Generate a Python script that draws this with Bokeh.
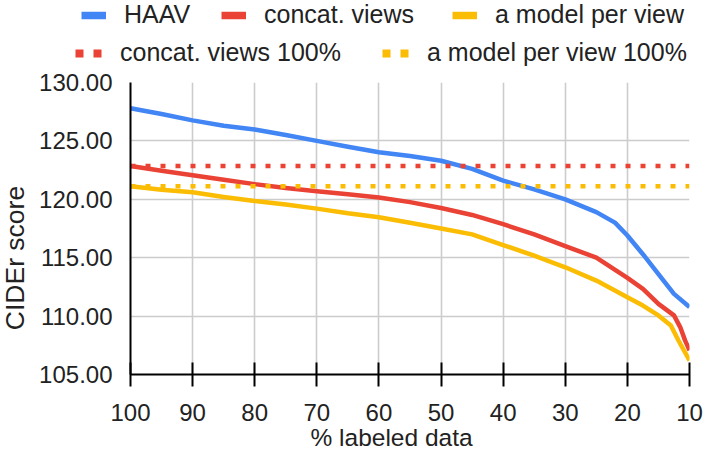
import math
from bokeh.plotting import figure
from bokeh.layouts import column, row
from bokeh.models import (Range1d, FixedTicker, PrintfTickFormatter, Legend, LegendItem, Label, Title)
from bokeh.embed import file_html
from bokeh.resources import INLINE

# ---- data ----
haav_x = [100, 95, 90, 85, 80, 75, 70, 65, 60, 55, 50, 45, 40, 35, 30, 25, 22, 20, 17.5, 15, 12.5, 10]
haav_y = [127.8, 127.3, 126.76, 126.3, 125.97, 125.5, 125.0, 124.5, 124.03, 123.7, 123.3, 122.6,
          121.6, 120.85, 120.0, 118.9, 118.0, 116.9, 115.3, 113.6, 111.9, 110.77]

concat_x = [100, 95, 90, 85, 80, 75, 70, 65, 60, 55, 50, 45, 40, 35, 30, 25, 20, 17.5, 15, 12.5, 11.5, 10.7, 10]
concat_y = [122.85, 122.44, 122.06, 121.68, 121.3, 120.97, 120.68, 120.44, 120.15, 119.76, 119.25, 118.66,
            117.87, 117.0, 116.0, 115.0, 113.27, 112.33, 111.05, 110.06, 109.06, 107.9, 107.07]

model_x = [100, 95, 90, 85, 80, 75, 70, 65, 60, 55, 50, 45, 40, 35, 30, 25, 20, 17.5, 15, 13, 11.8, 10]
model_y = [121.12, 120.82, 120.6, 120.2, 119.85, 119.56, 119.2, 118.8, 118.47, 118.0, 117.5, 117.0,
           116.08, 115.17, 114.18, 113.04, 111.62, 110.9, 110.06, 109.2, 107.93, 106.2]

full_x = [100, 10]
concat_full_y = [122.85, 122.85]
model_full_y = [121.12, 121.12]

x_ticks = [100, 90, 80, 70, 60, 50, 40, 30, 20, 10]
y_ticks = [105, 110, 115, 120, 125, 130]

series_names = ["HAAV", "concat. views", "a model per view", "concat. views 100%", "a model per view 100%"]
x_title = "% labeled data"
y_title = "CIDEr score"

BLUE = "#4285F4"
RED = "#EA4335"
YELLOW = "#FBBC04"
FONT = "Liberation Sans"
TXT = "#222222"
LW = 4.5
DOT = "5 10"


def blank_strip(w, h, xr=(0, 1), yr=(0, 1)):
    f = figure(width=w, height=h, output_backend="svg", toolbar_location=None,
               x_range=Range1d(*xr), y_range=Range1d(*yr),
               x_axis_type=None, y_axis_type=None, title_location=None,
               min_border_left=0, min_border_right=0, min_border_top=0, min_border_bottom=0)
    f.frame_align = False
    f.outline_line_color = None
    f.xgrid.visible = False
    f.ygrid.visible = False
    return f


# ---------------- main chart ----------------
p = figure(width=670, height=391, output_backend="svg", toolbar_location=None,
           x_range=Range1d(100, 10), y_range=Range1d(105, 130),
           min_border_left=92, min_border_right=17, min_border_top=14, min_border_bottom=85)
p.frame_align = False
p.outline_line_color = None
p.background_fill_color = "white"

p.xgrid.ticker = FixedTicker(ticks=x_ticks)
p.ygrid.ticker = FixedTicker(ticks=y_ticks)
for g in (p.xgrid, p.ygrid):
    g.grid_line_color = "#cccccc"
    g.grid_line_width = 1.6

xa = p.xaxis[0]
xa.ticker = FixedTicker(ticks=x_ticks)
xa.axis_line_color = "black"
xa.axis_line_width = 2
xa.major_tick_line_color = "black"
xa.major_tick_line_width = 2
xa.major_tick_in = 12
xa.major_tick_out = 12
xa.minor_tick_line_color = None
xa.major_label_text_font = FONT
xa.major_label_text_font_size = "24px"
xa.major_label_text_color = TXT
xa.major_label_standoff = 17

ya = p.yaxis[0]
ya.ticker = FixedTicker(ticks=y_ticks)
ya.formatter = PrintfTickFormatter(format="%.2f")
ya.axis_line_color = "black"
ya.axis_line_width = 2
ya.major_tick_in = 0
ya.major_tick_out = 0
ya.minor_tick_line_color = None
ya.major_label_text_font = FONT
ya.major_label_text_font_size = "24px"
ya.major_label_text_color = TXT
ya.major_label_standoff = 18

p.line(haav_x, haav_y, line_color=BLUE, line_width=LW, line_join="round")
p.line(concat_x, concat_y, line_color=RED, line_width=LW, line_join="round")
p.line(model_x, model_y, line_color=YELLOW, line_width=LW, line_join="round")
p.line(full_x, concat_full_y, line_color=RED, line_width=LW, line_dash=DOT, line_cap="butt")
p.line(full_x, model_full_y, line_color=YELLOW, line_width=LW, line_dash=DOT, line_cap="butt")

# x axis title, placed below the axis with a left offset like the reference
p.add_layout(Title(text=x_title, align="left", offset=180, standoff=0, vertical_align="top",
                   text_font=FONT, text_font_size="24.5px", text_font_style="normal",
                   text_color=TXT), "below")

# ---------------- y axis title strip ----------------
yf = blank_strip(36, 391)
yf.add_layout(Label(x=14.5, y=201.5, x_units="screen", y_units="screen", text=y_title,
                    angle=math.pi / 2, text_font=FONT, text_font_size="26.5px",
                    text_color=TXT, text_align="center", text_baseline="middle"))

# ---------------- legend strip ----------------
# the series are drawn here too, outside the visible range, only to provide legend swatches
lf = blank_strip(706, 68, xr=(100, 10), yr=(0, 1))
e_haav = lf.line(haav_x, haav_y, line_color=BLUE, line_width=7.5)
e_concat = lf.line(concat_x, concat_y, line_color=RED, line_width=7.5)
e_model = lf.line(model_x, model_y, line_color=YELLOW, line_width=7.5)
e_concat_full = lf.line(full_x, concat_full_y, line_color=RED, line_width=8, line_dash="8 10", line_cap="butt")
e_model_full = lf.line(full_x, model_full_y, line_color=YELLOW, line_width=8, line_dash="8 10", line_cap="butt")


def make_legend(label, renderer, x, y, gw):
    return Legend(items=[LegendItem(label=label, renderers=[renderer])], location=(x, y),
                  orientation="horizontal", glyph_width=gw, glyph_height=20, label_standoff=18,
                  padding=0, margin=0, border_line_color=None, background_fill_alpha=0,
                  label_text_font=FONT, label_text_font_size="25px", label_text_color=TXT)


row1_y, row2_y = 39, 1
lf.add_layout(make_legend(series_names[0], e_haav, 81, row1_y, 25), "center")
lf.add_layout(make_legend(series_names[1], e_concat, 221, row1_y, 25), "center")
lf.add_layout(make_legend(series_names[2], e_model, 452, row1_y, 25), "center")
lf.add_layout(make_legend(series_names[3], e_concat_full, 75, row2_y, 27), "center")
lf.add_layout(make_legend(series_names[4], e_model_full, 382, row2_y, 27), "center")

layout = column(lf, row(yf, p, spacing=0), spacing=0)
open("out.html", "w").write(file_html(layout, INLINE))
